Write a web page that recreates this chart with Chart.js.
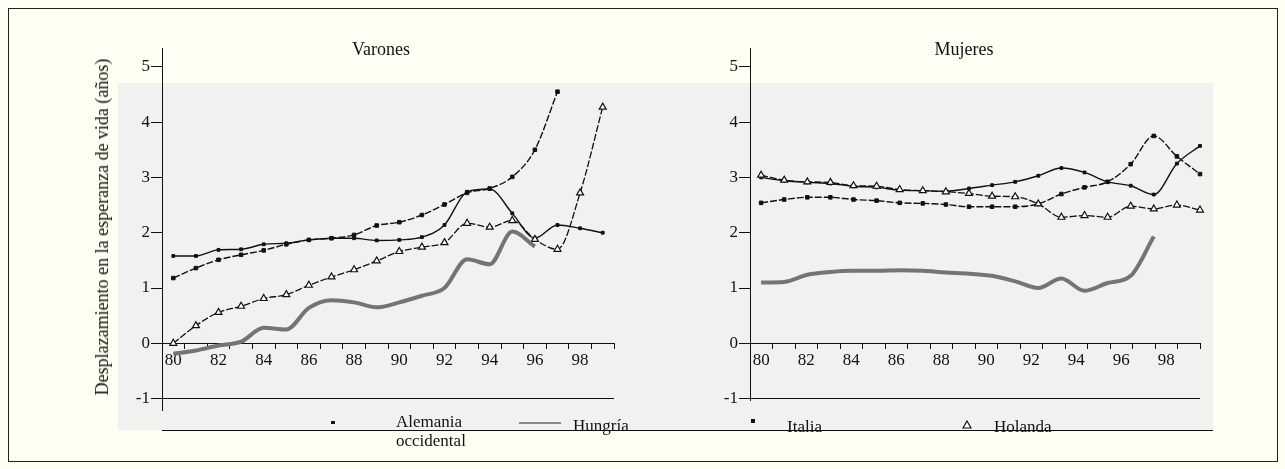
<!DOCTYPE html>
<html><head><meta charset="utf-8">
<script src="https://cdn.jsdelivr.net/npm/chart.js@4.4.1/dist/chart.umd.min.js"></script>
<style>
html,body{margin:0;padding:0;background:#fefef2;}
#wrap{position:relative;width:1285px;height:469px;overflow:hidden;background:#fefef2;font-family:"Liberation Serif","DejaVu Serif",serif;color:#111;}
#frame{position:absolute;left:8px;top:8px;width:1270px;height:454px;border:1px solid #222;box-sizing:border-box;}
.bg{position:absolute;left:118px;top:83px;width:1095px;height:347px;background:#f1f1ef;}
canvas{position:absolute;top:0;}
.t{position:absolute;white-space:nowrap;line-height:1;}
.sep{position:absolute;left:162px;top:430px;width:1051px;height:1px;background:#111;}
</style></head>
<body>
<div id="wrap">
  <div id="frame"></div>
  <div class="bg"></div>
  <canvas id="cV" width="680" height="469" style="left:0px"></canvas>
  <canvas id="cM" width="605" height="469" style="left:680px"></canvas>
  <div class="t" style="left:381px;top:40px;font-size:18px;transform:translateX(-50%)">Varones</div>
  <div class="t" style="left:964px;top:40px;font-size:18px;transform:translateX(-50%)">Mujeres</div>
  <div class="t" style="left:102px;top:227px;font-size:18px;transform:translate(-50%,-50%) rotate(-90deg)">Desplazamiento en la esperanza de vida (años)</div>
  <div class="sep"></div>
  <div style="position:absolute;left:331px;top:421px;width:4px;height:3px;background:#111"></div>
  <div class="t" style="left:396px;top:413px;font-size:17px">Alemania</div>
  <div class="t" style="left:396px;top:432px;font-size:17px">occidental</div>
  <div style="position:absolute;left:519px;top:422px;width:42px;height:2px;background:#8a8a8a"></div>
  <div class="t" style="left:573px;top:417px;font-size:17px">Hungría</div>
  <div style="position:absolute;left:751px;top:419px;width:4px;height:4px;background:#111"></div>
  <div class="t" style="left:787px;top:418px;font-size:17px">Italia</div>
  <svg style="position:absolute;left:962px;top:420px" width="10" height="9"><polygon points="5,1 9,8 1,8" fill="#fff" stroke="#111" stroke-width="1.2"/></svg>
  <div class="t" style="left:994px;top:418px;font-size:17px">Holanda</div>
</div>
<script>
// ---- data ----
const years = ['80','81','82','83','84','85','86','87','88','89','90','91','92','93','94','95','96','97','98','99'];
const yTicks = [-1,0,1,2,3,4,5];

// Varones
const alemaniaV = [1.58,1.58,1.69,1.70,1.79,1.81,1.87,1.90,1.90,1.86,1.87,1.92,2.14,2.74,2.79,2.35,1.90,2.14,2.08,2.00];
const italiaV   = [1.18,1.36,1.51,1.60,1.68,1.79,1.87,1.90,1.96,2.13,2.19,2.32,2.51,2.72,2.80,3.01,3.50,4.55,null,null];
const holandaV  = [0.00,0.32,0.56,0.67,0.81,0.88,1.05,1.20,1.33,1.49,1.66,1.74,1.82,2.17,2.10,2.22,1.88,1.70,2.72,4.27];
const hungriaV  = [-0.19,-0.13,-0.04,0.03,0.28,0.25,0.64,0.78,0.74,0.65,0.74,0.86,1.00,1.52,1.43,2.02,1.75,null,null,null];

// Mujeres
const alemaniaM = [3.00,2.94,2.91,2.89,2.84,2.82,2.77,2.76,2.75,2.80,2.86,2.92,3.03,3.17,3.09,2.92,2.85,2.69,3.25,3.57];
const italiaM   = [2.54,2.60,2.64,2.64,2.60,2.58,2.54,2.53,2.51,2.47,2.47,2.47,2.52,2.70,2.82,2.92,3.24,3.75,3.38,3.06];
const holandaM  = [3.04,2.95,2.92,2.91,2.85,2.84,2.78,2.76,2.74,2.71,2.66,2.65,2.52,2.28,2.31,2.28,2.48,2.43,2.50,2.41];
const hungriaM  = [1.10,1.11,1.24,1.29,1.31,1.31,1.32,1.31,1.28,1.26,1.22,1.12,1.00,1.17,0.95,1.09,1.22,1.93,null,null];

// ---- styling ----
const FONT = '"Liberation Serif", "DejaVu Serif", serif';
const INK = '#111';
const styles = {
  alemania: {borderColor:INK, borderWidth:1.4, pointStyle:'rect', pointRadius:2, pointBackgroundColor:INK, pointBorderColor:INK, pointBorderWidth:1},
  italia:   {borderColor:INK, borderWidth:1.4, borderDash:[7,2], pointStyle:'rect', pointRadius:2.5, pointBackgroundColor:INK, pointBorderColor:INK, pointBorderWidth:1},
  holanda:  {borderColor:INK, borderWidth:1.3, borderDash:[7,2], pointStyle:'triangle', pointRadius:4, pointBackgroundColor:'#fff', pointBorderColor:INK, pointBorderWidth:1.2},
  hungria:  {borderColor:'#747474', borderWidth:4, pointRadius:0}
};
function ds(label, vals, st){
  return Object.assign({
    label, data: years.map((y,i)=>({x:+y, y:vals[i]})),
    xAxisID:'xd', yAxisID:'y', clip:false, spanGaps:false, fill:false,
    cubicInterpolationMode:'monotone'
  }, st);
}
function makeChart(id, sets, cfg){
  return new Chart(document.getElementById(id), {
    type:'line',
    data:{labels:years, datasets:sets},
    options:{
      responsive:false, animation:false, devicePixelRatio:1,
      layout:{padding:cfg.padding},
      plugins:{legend:{display:false}, tooltip:{enabled:false}},
      scales:{
        x:{type:'category', labels:years, offset:true, position:{y:0},
           grid:{offset:true, drawOnChartArea:false, drawTicks:true, tickLength:5, color:INK, lineWidth:1},
           border:{display:true, color:INK, width:1},
           ticks:{autoSkip:false, maxRotation:0, minRotation:0, padding:2, color:INK,
                  font:{family:FONT, size:17}, callback:(v,i)=> i%2===0 ? years[i] : ''}},
        xd:{type:'linear', display:false, min:cfg.xmin, max:cfg.xmax},
        y:{type:'linear', position:'left', min:cfg.ymin, max:cfg.ymax,
           afterFit:s=>{s.width=60;},
           afterBuildTicks:s=>{s.ticks = yTicks.map(v=>({value:v}));},
           ticks:{padding:1, color:INK, font:{family:FONT, size:17}},
           grid:{drawTicks:true, tickLength:11, tickColor:INK, lineWidth:1,
                 color:c=> (c.tick && c.tick.value===-1) ? INK : 'rgba(0,0,0,0)'},
           border:{display:true, color:INK, width:1}}
      }
    }
  });
}
makeChart('cV', [
  ds('Hungría', hungriaV, styles.hungria),
  ds('Holanda', holandaV, styles.holanda),
  ds('Italia', italiaV, styles.italia),
  ds('Alemania occidental', alemaniaV, styles.alemania)
], {padding:{left:102,right:66,top:48,bottom:59}, xmin:79.5, xmax:99.5, ymin:-1.206, ymax:5.34});
makeChart('cM', [
  ds('Hungría', hungriaM, styles.hungria),
  ds('Holanda', holandaM, styles.holanda),
  ds('Italia', italiaM, styles.italia),
  ds('Alemania occidental', alemaniaM, styles.alemania)
], {padding:{left:10,right:85,top:48,bottom:69}, xmin:79.52, xmax:99, ymin:-1.025, ymax:5.34});
</script>
</body></html>
